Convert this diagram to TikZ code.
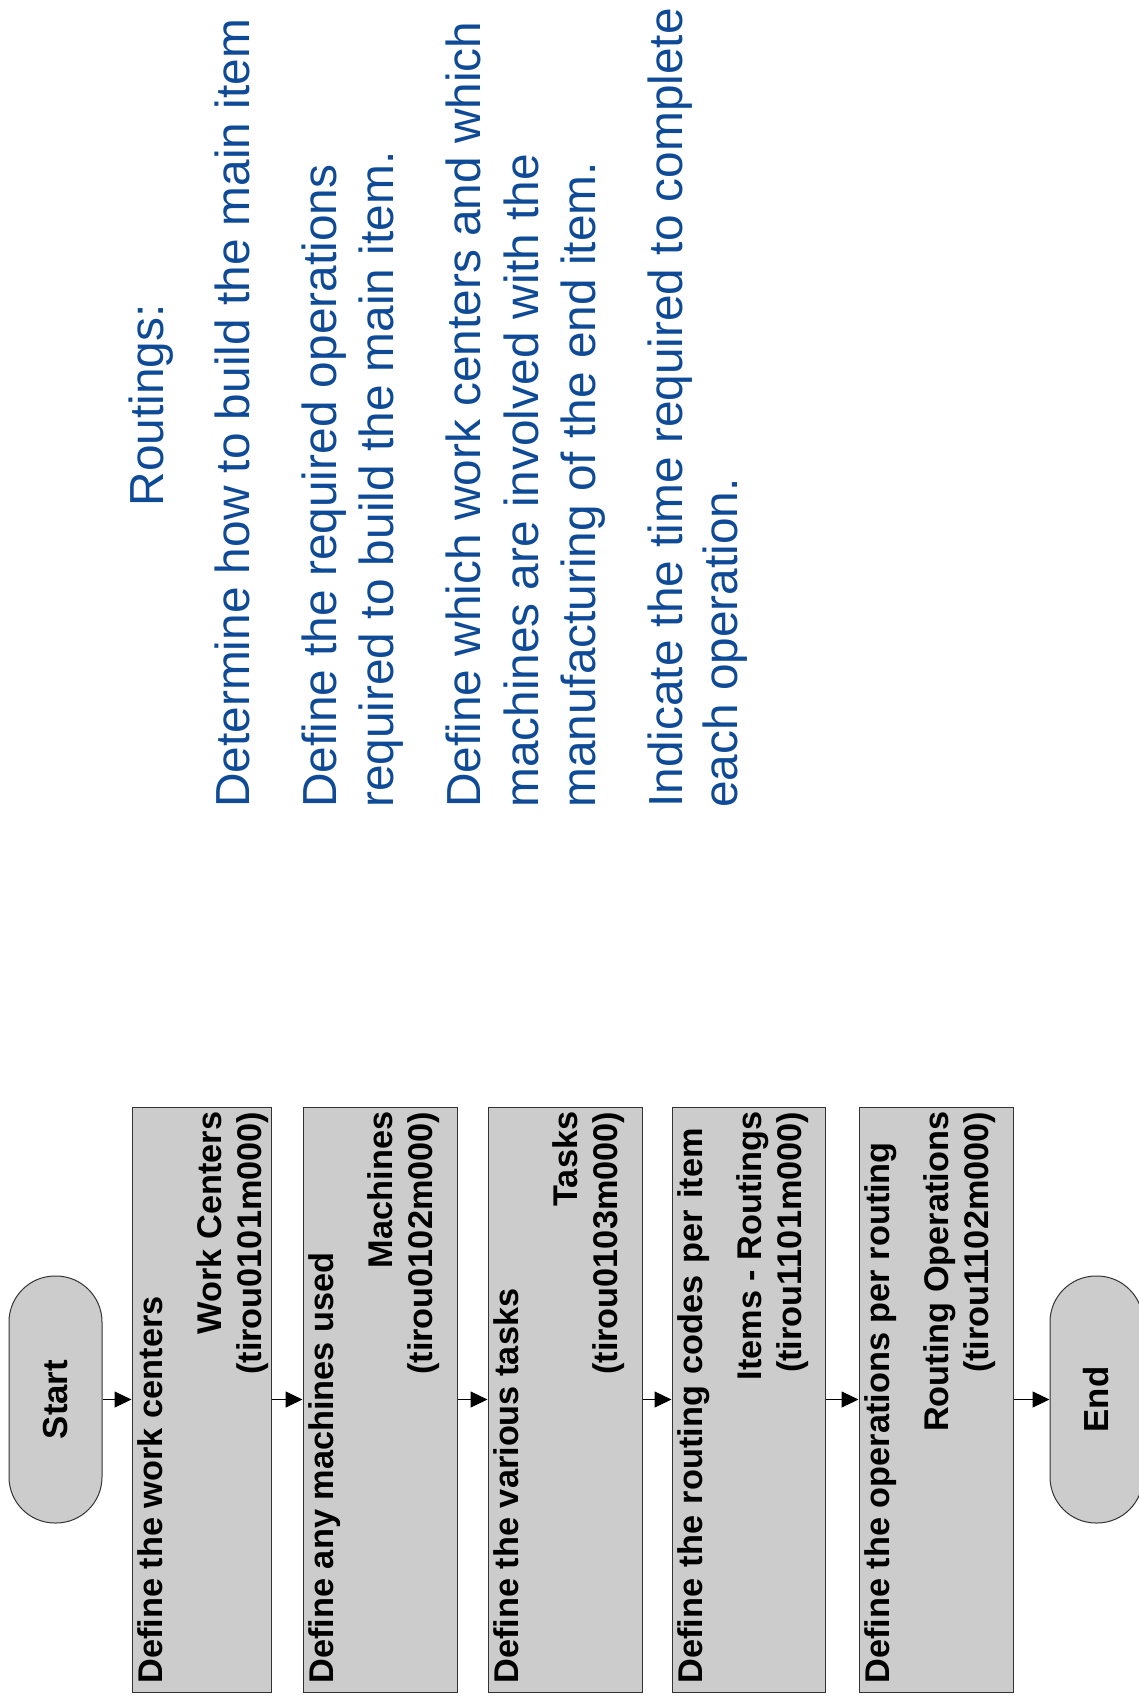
\documentclass[tikz,border=0pt]{standalone}
\usepackage{fontspec}
\setmainfont{Liberation Sans}
\usetikzlibrary{arrows.meta,calc}
\definecolor{boxfill}{RGB}{204,204,204}
\definecolor{boxline}{RGB}{51,51,51}
\definecolor{noteblue}{RGB}{14,74,150}

% three text lines of a process box: action (bottom), form name and session code (top)
\newcommand{\boxlines}[4]{%
  \node[boxtext, anchor=base west] (#1-a) at ($(#1.south west)+(31,-9)$) {#2};
  \node[boxtext, anchor=base east] (#1-b) at ($(#1.north west)+(90,5)$) {#3};
  \node[boxtext, anchor=base east] (#1-c) at ($(#1.north west)+(130,5)$) {#4};
}

\begin{document}
\begin{tikzpicture}[x=1pt,y=-1pt,
  procbox/.style={draw=boxline, fill=boxfill, line width=1pt,
    minimum width=#1, minimum height=585pt, inner sep=0pt},
  terminal/.style={draw=boxline, fill=boxfill, line width=1pt,
    rounded corners=46pt, minimum width=247pt, minimum height=93pt,
    rotate=90, inner sep=0pt, font=\fontsize{34.8}{42}\selectfont\bfseries},
  boxtext/.style={rotate=90, inner sep=0pt,
    font=\fontsize{34.3}{42}\selectfont\bfseries},
  note/.style={rotate=90, inner sep=0pt, anchor=base west, text=noteblue,
    font=\fontsize{47.8}{57}\selectfont},
  flow/.style={line width=1pt, -{Triangle[length=17pt,width=16pt]}}
]
\useasboundingbox (0,0) rectangle (1139,1702);

% flow chart
\node[terminal] (start) at (55.5,1399.5) {Start};
\node[procbox=139pt] (b1) at (201.5,1399.5) {};
\node[procbox=154pt] (b2) at (380,1399.5) {};
\node[procbox=154pt] (b3) at (565,1399.5) {};
\node[procbox=153pt] (b4) at (748.5,1399.5) {};
\node[procbox=154pt] (b5) at (936,1399.5) {};
\node[terminal] (end) at (1096.5,1399.5) {End};

\boxlines{b1}{Define the work centers}{Work Centers}{(tirou0101m000)}
\boxlines{b2}{Define any machines used}{Machines}{(tirou0102m000)}
\boxlines{b3}{Define the various tasks}{Tasks}{(tirou0103m000)}
\boxlines{b4}{\makebox[555pt][s]{Define the routing codes per item}}{Items - Routings}{(tirou1101m000)}
\boxlines{b5}{Define the operations per routing}{Routing Operations}{(tirou1102m000)}

\draw[flow] (start) -- (b1);
\draw[flow] (b1) -- (b2);
\draw[flow] (b2) -- (b3);
\draw[flow] (b3) -- (b4);
\draw[flow] (b4) -- (b5);
\draw[flow] (b5) -- (end);

% explanatory notes
\node[rotate=90, inner sep=0pt, anchor=base, text=noteblue,
  font=\fontsize{47.8}{57}\selectfont] (title) at (163,405.5) {Routings:};
\node[note] (n1)  at (249,808) {Determine how to build the main item};
\node[note] (n2a) at (336,808) {Define the required operations};
\node[note] (n2b) at (393,808) {required to build the main item.};
\node[note] (n3a) at (480,808) {Define which work centers and which};
\node[note] (n3b) at (538,808) {machines are involved with the};
\node[note] (n3c) at (595,808) {manufacturing of the end item.};
\node[note] (n4a) at (682,808) {Indicate the time required to complete};
\node[note] (n4b) at (737,808) {each operation.};
\end{tikzpicture}
\end{document}
